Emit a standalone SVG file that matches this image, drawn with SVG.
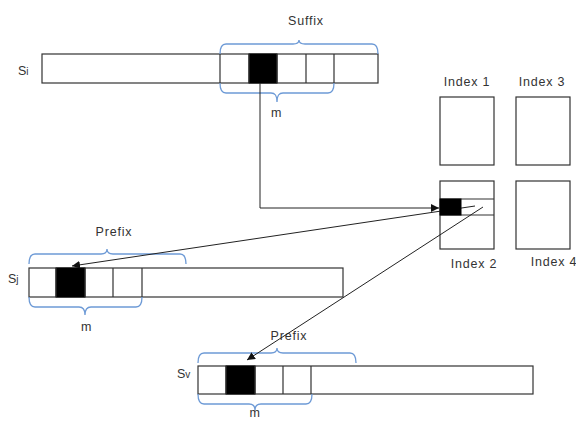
<svg xmlns="http://www.w3.org/2000/svg" width="576" height="421" viewBox="0 0 576 421">
<defs>
<style>
.box{fill:#fff;stroke:#333;stroke-width:1.2}
.cell{fill:none;stroke:#333;stroke-width:1.2}
.blk{fill:#000;stroke:#000}
.brace{fill:none;stroke:#6d9ad6;stroke-width:1.3}
.t{font-family:"Liberation Sans",Arial,sans-serif;font-size:12.5px;letter-spacing:0.8px;fill:#333}
.con{fill:none;stroke:#222;stroke-width:1}
</style>
<marker id="ah" viewBox="0 0 10 10" refX="10" refY="5" markerWidth="8" markerHeight="8" markerUnits="userSpaceOnUse" orient="auto">
<path d="M0,0 L10,5 L0,10 z" fill="#111"/>
</marker>
</defs>
<rect width="576" height="421" fill="#fff"/>

<g id="si">
<rect class="box" x="42" y="54" width="336" height="29"/>
<rect class="blk" x="249" y="54" width="28" height="29"/>
<path class="cell" d="M220,54V83M249,54V83M277,54V83M306,54V83M334,54V83"/>
<text class="t" x="18" y="75" style="letter-spacing:0">S<tspan font-size="10">i</tspan></text>
<path class="brace" d="M220,54 C220,47 222,44 226,44 L293,44 C297,44 299,43 299,40 C299,43 301,44 305,44 L372,44 C376,44 378,47 378,54"/>
<text class="t" x="306" y="25" text-anchor="middle">Suffix</text>
<path class="brace" d="M220,83 C220,90 222,93 226,93 L271,93 C275,93 277,95 277,102 C277,95 279,93 283,93 L328,93 C332,93 334,90 334,83"/>
<text class="t" x="276.5" y="117" text-anchor="middle">m</text>
</g>

<g id="index1">
<rect class="box" x="440" y="97" width="54" height="68"/>
<text class="t" x="467" y="86" text-anchor="middle">Index 1</text>
</g>
<g id="index3">
<rect class="box" x="516" y="97" width="54" height="68"/>
<text class="t" x="542" y="86" text-anchor="middle">Index 3</text>
</g>
<g id="index2">
<rect class="box" x="440" y="181" width="54" height="68"/>
<path class="cell" d="M440,199H494M440,215H494"/>
<text class="t" x="474" y="268" text-anchor="middle">Index 2</text>
</g>
<g id="index4">
<rect class="box" x="516" y="181" width="54" height="68"/>
<text class="t" x="554" y="266" text-anchor="middle">Index 4</text>
</g>

<g id="sj">
<rect class="box" x="29" y="268" width="314" height="29"/>
<rect class="blk" x="56" y="268" width="29" height="29"/>
<path class="cell" d="M56,268V297M85,268V297M113,268V297M142,268V297"/>
<text class="t" x="8" y="283" style="letter-spacing:0">S<tspan font-size="10">j</tspan></text>
<path class="brace" d="M29,264 C29,257 31,254 35,254 L101,254 C105,254 107,253 107,249 C107,253 109,254 113,254 L180,254 C184,254 186,257 186,264"/>
<text class="t" x="114" y="236" text-anchor="middle">Prefix</text>
<path class="brace" d="M29,297 C29,304 31,307 35,307 L79,307 C83,307 85,309 85,315 C85,309 87,307 91,307 L136,307 C140,307 142,304 142,297"/>
<text class="t" x="86.5" y="331" text-anchor="middle">m</text>
</g>

<g id="sv">
<rect class="box" x="198" y="366" width="335" height="28"/>
<rect class="blk" x="226" y="366" width="29" height="28"/>
<path class="cell" d="M226,366V394M255,366V394M283,366V394M311,366V394"/>
<text class="t" x="177" y="378" style="letter-spacing:0">S<tspan font-size="10">v</tspan></text>
<path class="brace" d="M198,363 C198,356 200,353 204,353 L271,353 C275,353 277,352 277,348 C277,352 279,353 283,353 L350,353 C354,353 356,356 356,363"/>
<text class="t" x="289" y="340" text-anchor="middle">Prefix</text>
<path class="brace" d="M198,394 C198,401 200,404 204,404 L249,404 C253,404 255,406 255,410 C255,406 257,404 261,404 L306,404 C310,404 312,401 312,394"/>
<text class="t" x="255" y="417" text-anchor="middle" font-size="12">m</text>
</g>

<g id="connectors">
<path class="con" d="M260,83 V208 H439" marker-end="url(#ah)"/>
<path class="con" d="M475,206 L72,266" marker-end="url(#ah)"/>
<path class="con" d="M483,207 L247,360" marker-end="url(#ah)"/>
</g>

<g id="index2-cell">
<rect class="blk" x="440" y="199" width="21" height="16"/>
</g>
</svg>
